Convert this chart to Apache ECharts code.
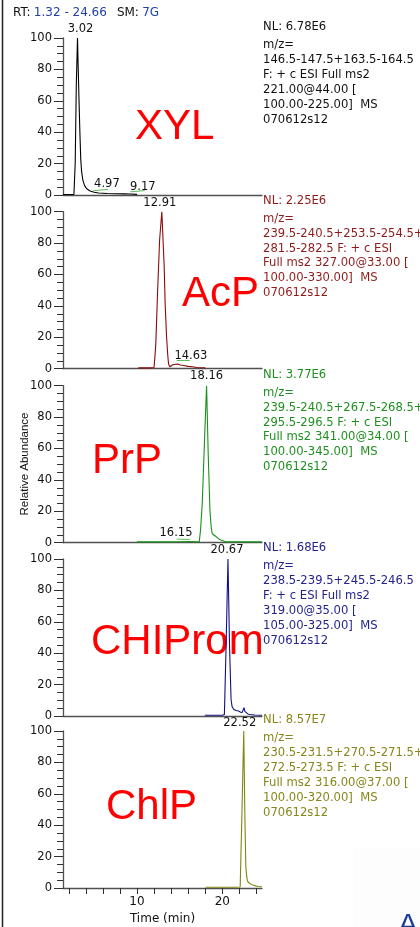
<!DOCTYPE html>
<html><head><meta charset="utf-8">
<script src="https://cdn.jsdelivr.net/npm/echarts@6/dist/echarts.min.js"></script>
<style>html,body{margin:0;padding:0;background:#fff}#c{width:420px;height:927px}</style>
</head><body><div id="c"></div><script>
// ---- data ----
const rtRange = [1.32, 24.66];
const smText = '7G';
const yTickLabels = [0, 20, 40, 60, 80, 100];
const xTickValues = [2, 4, 6, 8, 10, 12, 14, 16, 18, 20, 22, 24];
const xLabelValues = [10, 20];
const compounds = ['XYL', 'AcP', 'PrP', 'CHIProm', 'ChlP'];

const xylData = [[1.32,0.3],[2.0,0.3],[2.6,0.3],[2.75,20],[2.88,70],[3.02,100],[3.1,82],[3.2,60],[3.3,40],[3.4,23],[3.5,15],[3.65,9.5],[3.85,6],[4.1,4],[4.5,2.6],[4.97,1.8],[5.5,1.3],[6.5,1.0],[7.5,0.8],[8.5,0.7],[9.17,0.6],[10.0,0.4]];
const acpData = [[10.15,0.5],[11.0,0.5],[11.6,0.5],[12.0,0.8],[12.2,15],[12.4,47],[12.65,82],[12.91,100],[13.03,85],[13.18,66],[13.3,42],[13.46,21],[13.6,9],[13.7,3],[13.85,1.2],[14.0,1],[14.2,2.5],[14.37,3.5],[14.75,3],[15.1,2.4],[15.5,2],[16.0,1.5],[16.5,1.2],[17.0,0.8],[17.5,0.6],[18.0,0.5]];
const prpData = [[10.0,0.5],[12.0,0.5],[14.0,0.5],[15.0,0.6],[16.15,0.8],[17.0,0.5],[17.3,0.6],[17.45,8],[17.65,25],[17.93,67],[18.16,100],[18.35,57],[18.55,21],[18.7,10],[18.82,5.7],[19.0,4.5],[19.34,3.6],[19.6,2.4],[19.9,1.5],[20.5,0.5],[22.0,0.5],[24.66,0.5]];
const chlpromData = [[17.96,0.5],[19.0,0.5],[20.0,0.5],[20.25,1],[20.45,45],[20.67,100],[20.85,45],[21.03,10.7],[21.15,6],[21.33,4.3],[21.6,3.5],[21.9,3.2],[22.3,2],[22.42,3.5],[22.55,5.3],[22.65,3],[22.78,2],[23.0,1.3],[23.25,1],[23.8,0.6],[24.66,0.5]];
const chlpData = [[18.05,0.5],[20.0,0.5],[21.5,0.5],[22.1,0.6],[22.3,46],[22.52,100],[22.65,46],[22.77,12.7],[22.9,6],[22.97,4.3],[23.2,3],[23.44,2.3],[23.8,1.5],[24.2,1],[24.66,0.8]];

// peak labels: [panel, time, abundance, text]
const peakLabels = [
  [0, 3.02, 100, '3.02'], [0, 4.97, 1.8, '4.97'], [0, 9.17, 0.6, '9.17'],
  [1, 12.91, 100, '12.91'], [1, 14.63, 3, '14.63'],
  [2, 18.16, 100, '18.16'], [2, 16.15, 0.8, '16.15'],
  [3, 20.67, 100, '20.67'],
  [4, 22.52, 100, '22.52']
];
// green peak markers: [panel, t1, v1, t2, v2]
const peakMarks = [
  [0, 3.0, 103, 3.4, 104], [0, 4.87, 2.7, 6.6, 3.6], [0, 9.2, 2.0, 10.9, 2.8],
  [1, 14.65, 5.5, 16.2, 5.5],
  [2, 14.65, 2.3, 16.2, 2.0],
  [4, 22.45, 104, 22.65, 104]
];

const nlValues = ['6.78E6', '2.25E6', '3.77E6', '1.68E6', '8.57E7'];
const infoLines = [
  ['m/z=', '146.5-147.5+163.5-164.5', 'F: + c ESI Full ms2', '221.00@44.00 [', '100.00-225.00]  MS', '070612s12'],
  ['m/z=', '239.5-240.5+253.5-254.5+', '281.5-282.5 F: + c ESI', 'Full ms2 327.00@33.00 [', '100.00-330.00]  MS', '070612s12'],
  ['m/z=', '239.5-240.5+267.5-268.5+', '295.5-296.5 F: + c ESI', 'Full ms2 341.00@34.00 [', '100.00-345.00]  MS', '070612s12'],
  ['m/z=', '238.5-239.5+245.5-246.5', 'F: + c ESI Full ms2', '319.00@35.00 [', '105.00-325.00]  MS', '070612s12'],
  ['m/z=', '230.5-231.5+270.5-271.5+', '272.5-273.5 F: + c ESI', 'Full ms2 316.00@37.00 [', '100.00-320.00]  MS', '070612s12']
];
const seriesData = [xylData, acpData, prpData, chlpromData, chlpData];

// ---- layout / style ----
const panelTops = [38, 211.7, 385.7, 559, 731];
const panelH = 157;
const gridLeft = 63, gridW = 199;
const traceColors = ['#000000', '#8b0a0a', '#179217', '#101088', '#848410'];
const textColors = ['#111111', '#8e1a1a', '#1f8f1f', '#24248e', '#86861a'];
const bigLabelPos = [[135, 127], [182, 294], [92, 461], [91, 642], [106, 807]];
const labelOffsets = {
  '3.02': [3, -9, 'center'], '4.97': [0, -8, 'left'], '9.17': [0, -7, 'left'],
  '12.91': [-2, -9, 'center'], '14.63': [-2, -8, 'left'],
  '18.16': [0, -10, 'center'], '16.15': [3, -8, 'right'],
  '20.67': [-1, -9, 'center'], '22.52': [-4, -8, 'center']
};
const infoFont = '"DejaVu Sans", sans-serif';

const grid = [], xAxis = [], yAxis = [], series = [], graphic = [];
for (let i = 0; i < 5; i++) {
  const last = i === 4;
  grid.push({left: gridLeft, top: panelTops[i], width: gridW, height: panelH, containLabel: false});
  xAxis.push({
    type: 'value', gridIndex: i, min: rtRange[0], max: rtRange[1],
    axisLine: {show: true, onZero: false, lineStyle: {color: '#505050', width: 1.3}},
    axisTick: last ? {show: true, customValues: xTickValues, length: 6, lineStyle: {color: '#303030'}} : {show: false},
    axisLabel: last ? {show: true, customValues: xLabelValues, color: '#111', fontSize: 12, fontFamily: infoFont, margin: 8} : {show: false},
    splitLine: {show: false},
    name: last ? 'Time (min)' : '', nameLocation: 'middle', nameGap: 25,
    nameTextStyle: {color: '#111', fontSize: 12, fontFamily: infoFont}
  });
  yAxis.push({
    type: 'value', gridIndex: i, min: 0, max: 100, interval: 20,
    axisLine: {show: true, lineStyle: {color: '#505050', width: 1.3}},
    axisTick: {show: true, length: 9, lineStyle: {color: '#303030'}},
    minorTick: {show: true, splitNumber: 4, length: 6, lineStyle: {color: '#303030'}},
    axisLabel: {color: '#111', fontSize: 11.5, fontFamily: infoFont, margin: 11,
      customValues: yTickLabels},
    splitLine: {show: false}
  });
  const lbls = peakLabels.filter(p => p[0] === i).map(p => {
    const o = labelOffsets[p[3]];
    return {coord: [p[1], p[2]], value: p[3],
      label: {show: true, formatter: p[3], offset: [o[0], o[1]], align: o[2]}};
  });
  const marks = peakMarks.filter(m => m[0] === i).map(m => [{coord: [m[1], m[2]]}, {coord: [m[3], m[4]]}]);
  series.push({
    type: 'line', xAxisIndex: i, yAxisIndex: i, data: seriesData[i],
    showSymbol: false, symbol: 'none', clip: true, animation: false,
    lineStyle: {color: traceColors[i], width: 1.1}, itemStyle: {color: traceColors[i]},
    markPoint: {
      symbol: 'circle', symbolSize: 0.01, silent: true, animation: false,
      itemStyle: {color: 'rgba(0,0,0,0)'},
      label: {show: true, position: 'inside', color: '#111', fontSize: 11.5, fontFamily: infoFont, verticalAlign: 'middle'},
      data: lbls
    },
    markLine: {
      symbol: ['none', 'none'], silent: true, animation: false,
      lineStyle: {color: '#5cbf5c', width: 1, type: 'solid'},
      label: {show: false}, emphasis: {disabled: true},
      data: marks
    }
  });
  // right-side info text
  graphic.push({type: 'text', left: 263, top: panelTops[i] - 17,
    style: {text: 'NL: ' + nlValues[i], fill: textColors[i], font: '11.6px ' + infoFont}, silent: true});
  infoLines[i].forEach((ln, k) => {
    graphic.push({type: 'text', left: 263, top: panelTops[i] + 1 + k * 14.9,
      style: {text: ln, fill: textColors[i], font: '11.6px ' + infoFont}, silent: true});
  });
  // big red compound label
  graphic.push({type: 'text', x: bigLabelPos[i][0], y: bigLabelPos[i][1],
    style: {text: compounds[i], fill: '#ff0000', font: '42px "Liberation Sans", Arial, sans-serif', verticalAlign: 'middle', align: 'left'}, silent: true});
}

// header
graphic.push({type: 'text', left: 13, top: 7,
  style: {text: '{k|RT:} {v|' + rtRange[0].toFixed(2) + ' - ' + rtRange[1].toFixed(2) + '}   {k|SM:} {v|' + smText + '}',
    rich: {k: {fill: '#111', font: '12px ' + infoFont}, v: {fill: '#2040a8', font: '12px ' + infoFont}}}, silent: true});
// y axis name
graphic.push({type: 'text', x: 25, y: 464, rotation: Math.PI / 2,
  style: {text: 'Relative Abundance', fill: '#111', font: '11.5px "Liberation Sans", Arial, sans-serif', align: 'center', verticalAlign: 'middle'}, silent: true});
// left frame line
graphic.push({type: 'line', shape: {x1: 2.5, y1: 0, x2: 2.5, y2: 927}, style: {stroke: '#222', lineWidth: 1.5}, silent: true});
// faint panel at bottom right and clipped glyph
graphic.push({type: 'rect', shape: {x: 353, y: 847, width: 67, height: 80}, style: {fill: '#fdfdfd'}, silent: true, z: -1});
graphic.push({type: 'text', x: 398, y: 911, style: {text: 'A', fill: '#1a3a9a', font: '30px "Liberation Sans", Arial, sans-serif'}, silent: true});

const chart = echarts.init(document.getElementById('c'), null, {renderer: 'canvas'});
chart.setOption({animation: false, backgroundColor: '#fff', grid, xAxis, yAxis, series, graphic});
</script></body></html>
